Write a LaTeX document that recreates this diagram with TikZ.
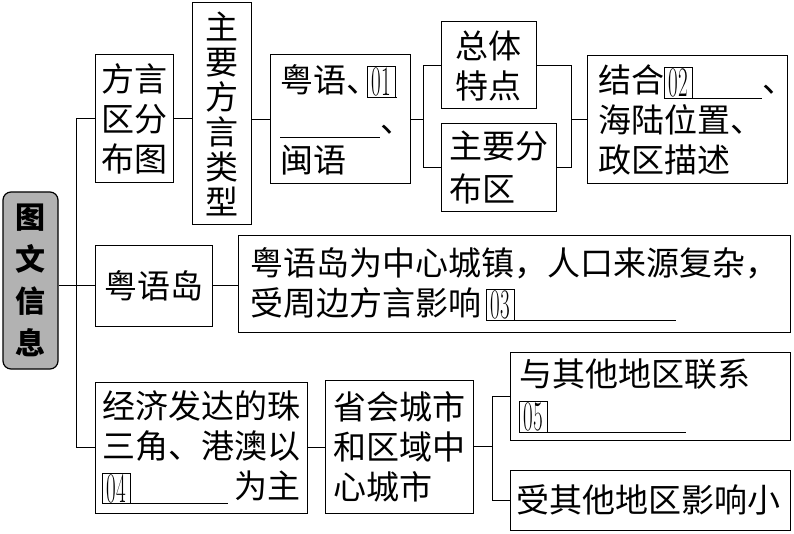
\documentclass[tikz,border=0pt]{standalone}
\usepackage{fontspec}
\usepackage{graphicx}
\newfontfamily\cjk{Noto Sans CJK SC}
\newcommand{\numbox}[1]{\raisebox{-5pt}{\fboxsep=0pt\fboxrule=0.9pt\fbox{\parbox[b][30pt][c]{27pt}{\centering\normalfont\fontsize{42}{42}\selectfont\scalebox{0.5}[1]{#1}}}}}
\newcommand{\bn}[2]{\makebox[#2][l]{\rlap{\rule[-5.8pt]{#2}{0.8pt}}\numbox{#1}}}
\tikzset{
  bx/.style={draw, line width=1pt, inner ysep=0pt, font=\cjk\fontsize{33}{40}\selectfont},
  ln/.style={line width=1pt}
}
\begin{document}
\begin{tikzpicture}[x=1pt,y=-1pt]
\useasboundingbox (0,0) rectangle (794,534);
\fill[white] (0,0) rectangle (794,534);
% root
\node[draw, line width=1.2pt, rounded corners=8pt, fill=black!30, minimum width=55pt, minimum height=177pt, inner sep=0pt, align=center, font=\cjk\bfseries\fontsize{30}{42}\selectfont] (root) at (30.5,280.5) {图\\文\\信\\息};
% top row
\node[bx, minimum width=78pt, minimum height=128pt, inner xsep=6pt, text width=66pt, align=center] (A) at (134,119) {方言\\区分\\布图};
\node[bx, font=\cjk\fontsize{33}{35}\selectfont, minimum width=59pt, minimum height=222pt, inner xsep=6pt, text width=47pt, align=center] (B) at (221.5,114) {主\\要\\方\\言\\类\\型};
\node[bx, minimum width=140pt, minimum height=129pt, inner xsep=10pt, text width=120pt, align=left] (C) at (340,119.5) {粤语\makebox[21pt][l]{、}\bn{01}{30pt}\\\rule[-5.8pt]{100pt}{0.8pt}、\\闽语};
\node[bx, minimum width=95pt, minimum height=87pt, inner xsep=7pt, text width=81pt, align=center] (D) at (488.5,65.5) {总体\\特点};
\node[bx, font=\cjk\fontsize{33}{43}\selectfont, minimum width=115pt, minimum height=88pt, inner xsep=8pt, text width=99pt, align=left] (E) at (498.5,168) {主要分\\布区};
\node[bx, minimum width=200pt, minimum height=128pt, inner xsep=11pt, text width=178pt, align=left] (F) at (687,120) {结合\bn{02}{98pt}\makebox[0pt][l]{、}\\海陆位置、\\政区描述};
% middle row
\node[bx, minimum width=117pt, minimum height=80pt, inner xsep=6pt, text width=105pt, align=center] (G) at (153.5,286) {粤语岛};
\node[bx, minimum width=552pt, minimum height=96pt, inner xsep=12pt, text width=528pt, align=left] (H) at (514,284) {粤语岛为中心城镇，人口来源复杂，\\受周边方言影响\hspace{5pt}\bn{03}{190pt}};
% bottom row
\node[bx, minimum width=212pt, minimum height=131pt, inner xsep=7pt, text width=198pt, align=left] (I) at (201,447.5) {经济发达的珠\\三角、港澳以\\\bn{04}{126pt}\hfill 为主};
\node[bx, minimum width=148pt, minimum height=133pt, inner xsep=8pt, text width=132pt, align=left] (J) at (399,446.5) {省会城市\\和区域中\\心城市};
\node[bx, minimum width=280pt, minimum height=88pt, inner xsep=9pt, text width=262pt, align=left] (K) at (650,396) {与其他地区联系\\\bn{05}{167pt}};
\node[bx, minimum width=280pt, minimum height=60pt, inner xsep=6pt, text width=268pt, align=left] (L) at (650,500) {受其他地区影响小};
% bracket coordinates
\coordinate (tr) at (76,0);
\coordinate (b1) at (423,0);
\coordinate (b2) at (571,0);
\coordinate (b3) at (492,0);
% connectors
\draw[ln] (A.west) -| (tr |- I.west) -- (I.west);
\draw[ln] (root.east |- G.west) -- (G.west);
\draw[ln] (A.east) -- (A.east -| B.west);
\draw[ln] (B.east |- C.west) -- (C.west);
\draw[ln] (C.east) -- (C.east -| b1);
\draw[ln] (D.west) -| (b1 |- E.west) -- (E.west);
\draw[ln] (D.east) -| (b2 |- E.east) -- (E.east);
\draw[ln] (b2 |- F.west) -- (F.west);
\draw[ln] (G.east) -- (G.east -| H.west);
\draw[ln] (I.east) -- (I.east -| J.west);
\draw[ln] (J.east) -- (J.east -| b3);
\draw[ln] (K.west) -| (b3 |- L.west) -- (L.west);
\end{tikzpicture}
\end{document}
